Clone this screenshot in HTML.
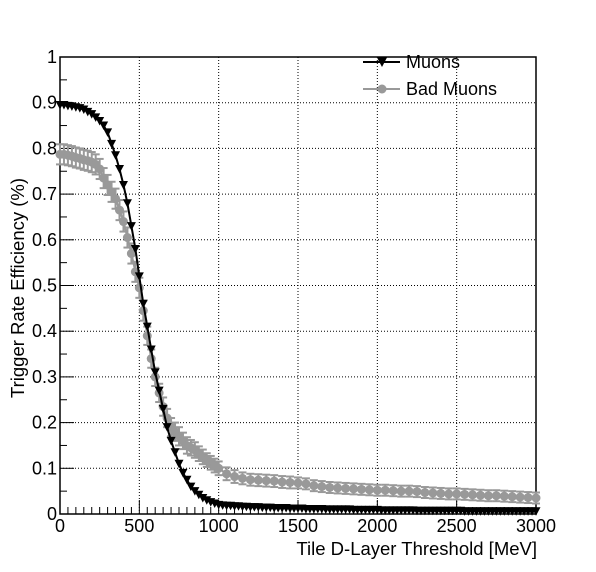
<!DOCTYPE html>
<html><head><meta charset="utf-8"><style>
body{margin:0;background:#fff}
svg{display:block;font-family:"Liberation Sans",Arial,sans-serif}
</style></head><body>
<svg id="c" width="596" height="572" xmlns="http://www.w3.org/2000/svg"></svg>
<script>
const xTicks=[0,500,1000,1500,2000,2500,3000];
const yTicks=[0,0.1,0.2,0.3,0.4,0.5,0.6,0.7,0.8,0.9,1];
const yTickLabels=["0","0.1","0.2","0.3","0.4","0.5","0.6","0.7","0.8","0.9","1"];
const muX=[0,25,50,75,100,125,150,175,200,225,250,275,300,325,350,375,400,425,450,475,500,525,550,575,600,625,650,675,700,725,750,775,800,825,850,875,900,925,950,975,1000,1025,1050,1075,1100,1125,1150,1175,1200,1225,1250,1275,1300,1325,1350,1375,1400,1425,1450,1475,1500,1525,1550,1575,1600,1625,1650,1675,1700,1725,1750,1775,1800,1825,1850,1875,1900,1925,1950,1975,2000,2025,2050,2075,2100,2125,2150,2175,2200,2225,2250,2275,2300,2325,2350,2375,2400,2425,2450,2475,2500,2525,2550,2575,2600,2625,2650,2675,2700,2725,2750,2775,2800,2825,2850,2875,2900,2925,2950,2975,3000];
const muY=[0.895,0.895,0.893,0.892,0.89,0.888,0.885,0.88,0.875,0.868,0.86,0.85,0.835,0.81,0.785,0.755,0.72,0.68,0.63,0.58,0.52,0.46,0.41,0.36,0.31,0.27,0.23,0.19,0.16,0.135,0.11,0.09,0.075,0.06,0.05,0.042,0.035,0.03,0.026,0.023,0.02,0.019,0.018,0.018,0.017,0.017,0.016,0.016,0.015,0.015,0.015,0.014,0.014,0.014,0.013,0.013,0.013,0.013,0.012,0.012,0.012,0.012,0.011,0.011,0.011,0.011,0.011,0.01,0.01,0.01,0.01,0.01,0.01,0.01,0.009,0.009,0.009,0.009,0.009,0.009,0.009,0.008,0.008,0.008,0.008,0.008,0.008,0.008,0.008,0.008,0.007,0.007,0.007,0.007,0.007,0.007,0.007,0.007,0.007,0.007,0.007,0.007,0.006,0.006,0.006,0.006,0.006,0.006,0.006,0.006,0.006,0.006,0.006,0.006,0.006,0.006,0.006,0.006,0.006,0.006,0.006];
const badX=[0,25,50,75,100,125,150,175,200,225,250,275,300,325,350,375,400,425,450,475,500,525,550,575,600,625,650,675,700,725,750,775,800,825,850,875,900,925,950,975,1000,1050,1100,1150,1200,1250,1300,1350,1400,1450,1500,1550,1600,1650,1700,1750,1800,1850,1900,1950,2000,2050,2100,2150,2200,2250,2300,2350,2400,2450,2500,2550,2600,2650,2700,2750,2800,2850,2900,2950,3000];
const badY=[0.787,0.787,0.785,0.783,0.78,0.778,0.775,0.773,0.77,0.765,0.755,0.735,0.72,0.705,0.69,0.665,0.64,0.605,0.57,0.53,0.495,0.445,0.39,0.34,0.3,0.265,0.235,0.21,0.19,0.18,0.17,0.16,0.15,0.145,0.14,0.132,0.125,0.118,0.112,0.106,0.1,0.088,0.082,0.078,0.075,0.074,0.073,0.072,0.07,0.069,0.068,0.066,0.062,0.06,0.058,0.057,0.056,0.055,0.054,0.053,0.052,0.052,0.051,0.05,0.05,0.049,0.047,0.046,0.045,0.044,0.044,0.043,0.042,0.041,0.04,0.04,0.039,0.038,0.037,0.036,0.035];
const badErr=[0.022,0.022,0.022,0.022,0.022,0.022,0.022,0.022,0.022,0.022,0.022,0.022,0.022,0.022,0.022,0.022,0.022,0.022,0.022,0.022,0.022,0.022,0.02,0.02,0.02,0.02,0.02,0.02,0.02,0.02,0.02,0.018,0.018,0.017,0.017,0.016,0.016,0.015,0.015,0.015,0.015,0.014,0.014,0.013,0.013,0.013,0.013,0.013,0.013,0.013,0.012,0.012,0.012,0.012,0.012,0.012,0.012,0.012,0.012,0.012,0.012,0.012,0.012,0.012,0.012,0.012,0.012,0.012,0.012,0.012,0.012,0.012,0.012,0.012,0.012,0.012,0.012,0.012,0.012,0.012,0.012];

const NS="http://www.w3.org/2000/svg";
const svg=document.getElementById('c');
const L=60,R=536,T=57,B=514;
const sx=v=>L+(v/3000)*(R-L);
const sy=v=>B-v*(B-T);
function mk(tag,attrs,parent){const e=document.createElementNS(NS,tag);for(const k in attrs)e.setAttribute(k,attrs[k]);(parent||svg).appendChild(e);return e;}

const grid=mk('g',{});


xTicks.forEach(t=>{if(t>0&&t<3000)mk('line',{x1:sx(t),x2:sx(t),y1:T,y2:B,stroke:'#000','stroke-width':1,'stroke-dasharray':'1,2'},grid);});
yTicks.forEach(t=>{if(t>0&&t<1)mk('line',{x1:L,x2:R,y1:sy(t),y2:sy(t),stroke:'#000','stroke-width':1,'stroke-dasharray':'1,2'},grid);});

const ax=mk('g',{stroke:'#000','stroke-width':1});


for(let v=0;v<=3000;v+=50){const maj=v%500===0;mk('line',{x1:sx(v),x2:sx(v),y1:B,y2:B-(maj?14:7)},ax);}
for(let i=0;i<=20;i++){const v=i*0.05;const maj=i%2===0;mk('line',{x1:L,x2:L+(maj?14:7),y1:sy(v),y2:sy(v)},ax);}
mk('rect',{x:L,y:T,width:R-L,height:B-T,fill:'none',stroke:'#000','stroke-width':1.5},ax);

xTicks.forEach(t=>{const e=mk('text',{x:sx(t),y:532,'text-anchor':'middle','font-size':18});e.textContent=String(t);

});
yTicks.forEach((t,i)=>{const e=mk('text',{x:57,y:sy(t)+6,'text-anchor':'end','font-size':18});e.textContent=yTickLabels[i];

});

const xt=mk('text',{x:537,y:555,'text-anchor':'end','font-size':18.5});xt.textContent='Tile D-Layer Threshold [MeV]';


const yt=mk('text',{x:-288,y:0,'text-anchor':'middle','font-size':18.5,transform:'translate(24,0) rotate(-90)'});
yt.textContent='Trigger Rate Efficiency (%)';



function series(xs,ys,es,color,marker,name){
  const g=mk('g',{});
  
  
  let d='';
  xs.forEach((x,i)=>{d+=(i?'L':'M')+sx(x).toFixed(1)+','+sy(ys[i]).toFixed(1);});
  mk('path',{d:d,fill:'none',stroke:color,'stroke-width':2},g);
  xs.forEach((x,i)=>{
    const px=sx(x),py=sy(ys[i]);
    if(es){
      const y1=sy(ys[i]+es[i]),y2=sy(ys[i]-es[i]);
      mk('line',{x1:px,x2:px,y1:y1,y2:y2,stroke:color,'stroke-width':2},g);
      mk('line',{x1:px-4,x2:px+4,y1:y1,y2:y1,stroke:color,'stroke-width':2},g);
      mk('line',{x1:px-4,x2:px+4,y1:y2,y2:y2,stroke:color,'stroke-width':2},g);
    }
    let m;
    if(marker==='tri') m=mk('path',{d:`M${px-4.5},${py-4}L${px+4.5},${py-4}L${px},${py+4.5}Z`,fill:color},g);
    else m=mk('circle',{cx:px,cy:py,r:4.5,fill:color},g);
    
    
  });
}
series(badX,badY,badErr,'#999999','circ','bad-muons-series');
series(muX,muY,null,'#000000','tri','muons-series');

const lg=mk('g',{});


const e1=mk('g',{},lg);


mk('line',{x1:363,x2:400,y1:62,y2:62,stroke:'#000','stroke-width':2},e1);
mk('path',{d:'M377,57.5L387,57.5L382,67Z',fill:'#000'},e1);
const t1=mk('text',{x:406,y:68,'font-size':18},e1);t1.textContent='Muons';
const e2=mk('g',{},lg);


mk('line',{x1:363,x2:400,y1:89,y2:89,stroke:'#999','stroke-width':2},e2);
mk('circle',{cx:382,cy:89,r:4.5,fill:'#999'},e2);
const t2=mk('text',{x:406,y:95,'font-size':18},e2);t2.textContent='Bad Muons';
</script>
</body></html>
